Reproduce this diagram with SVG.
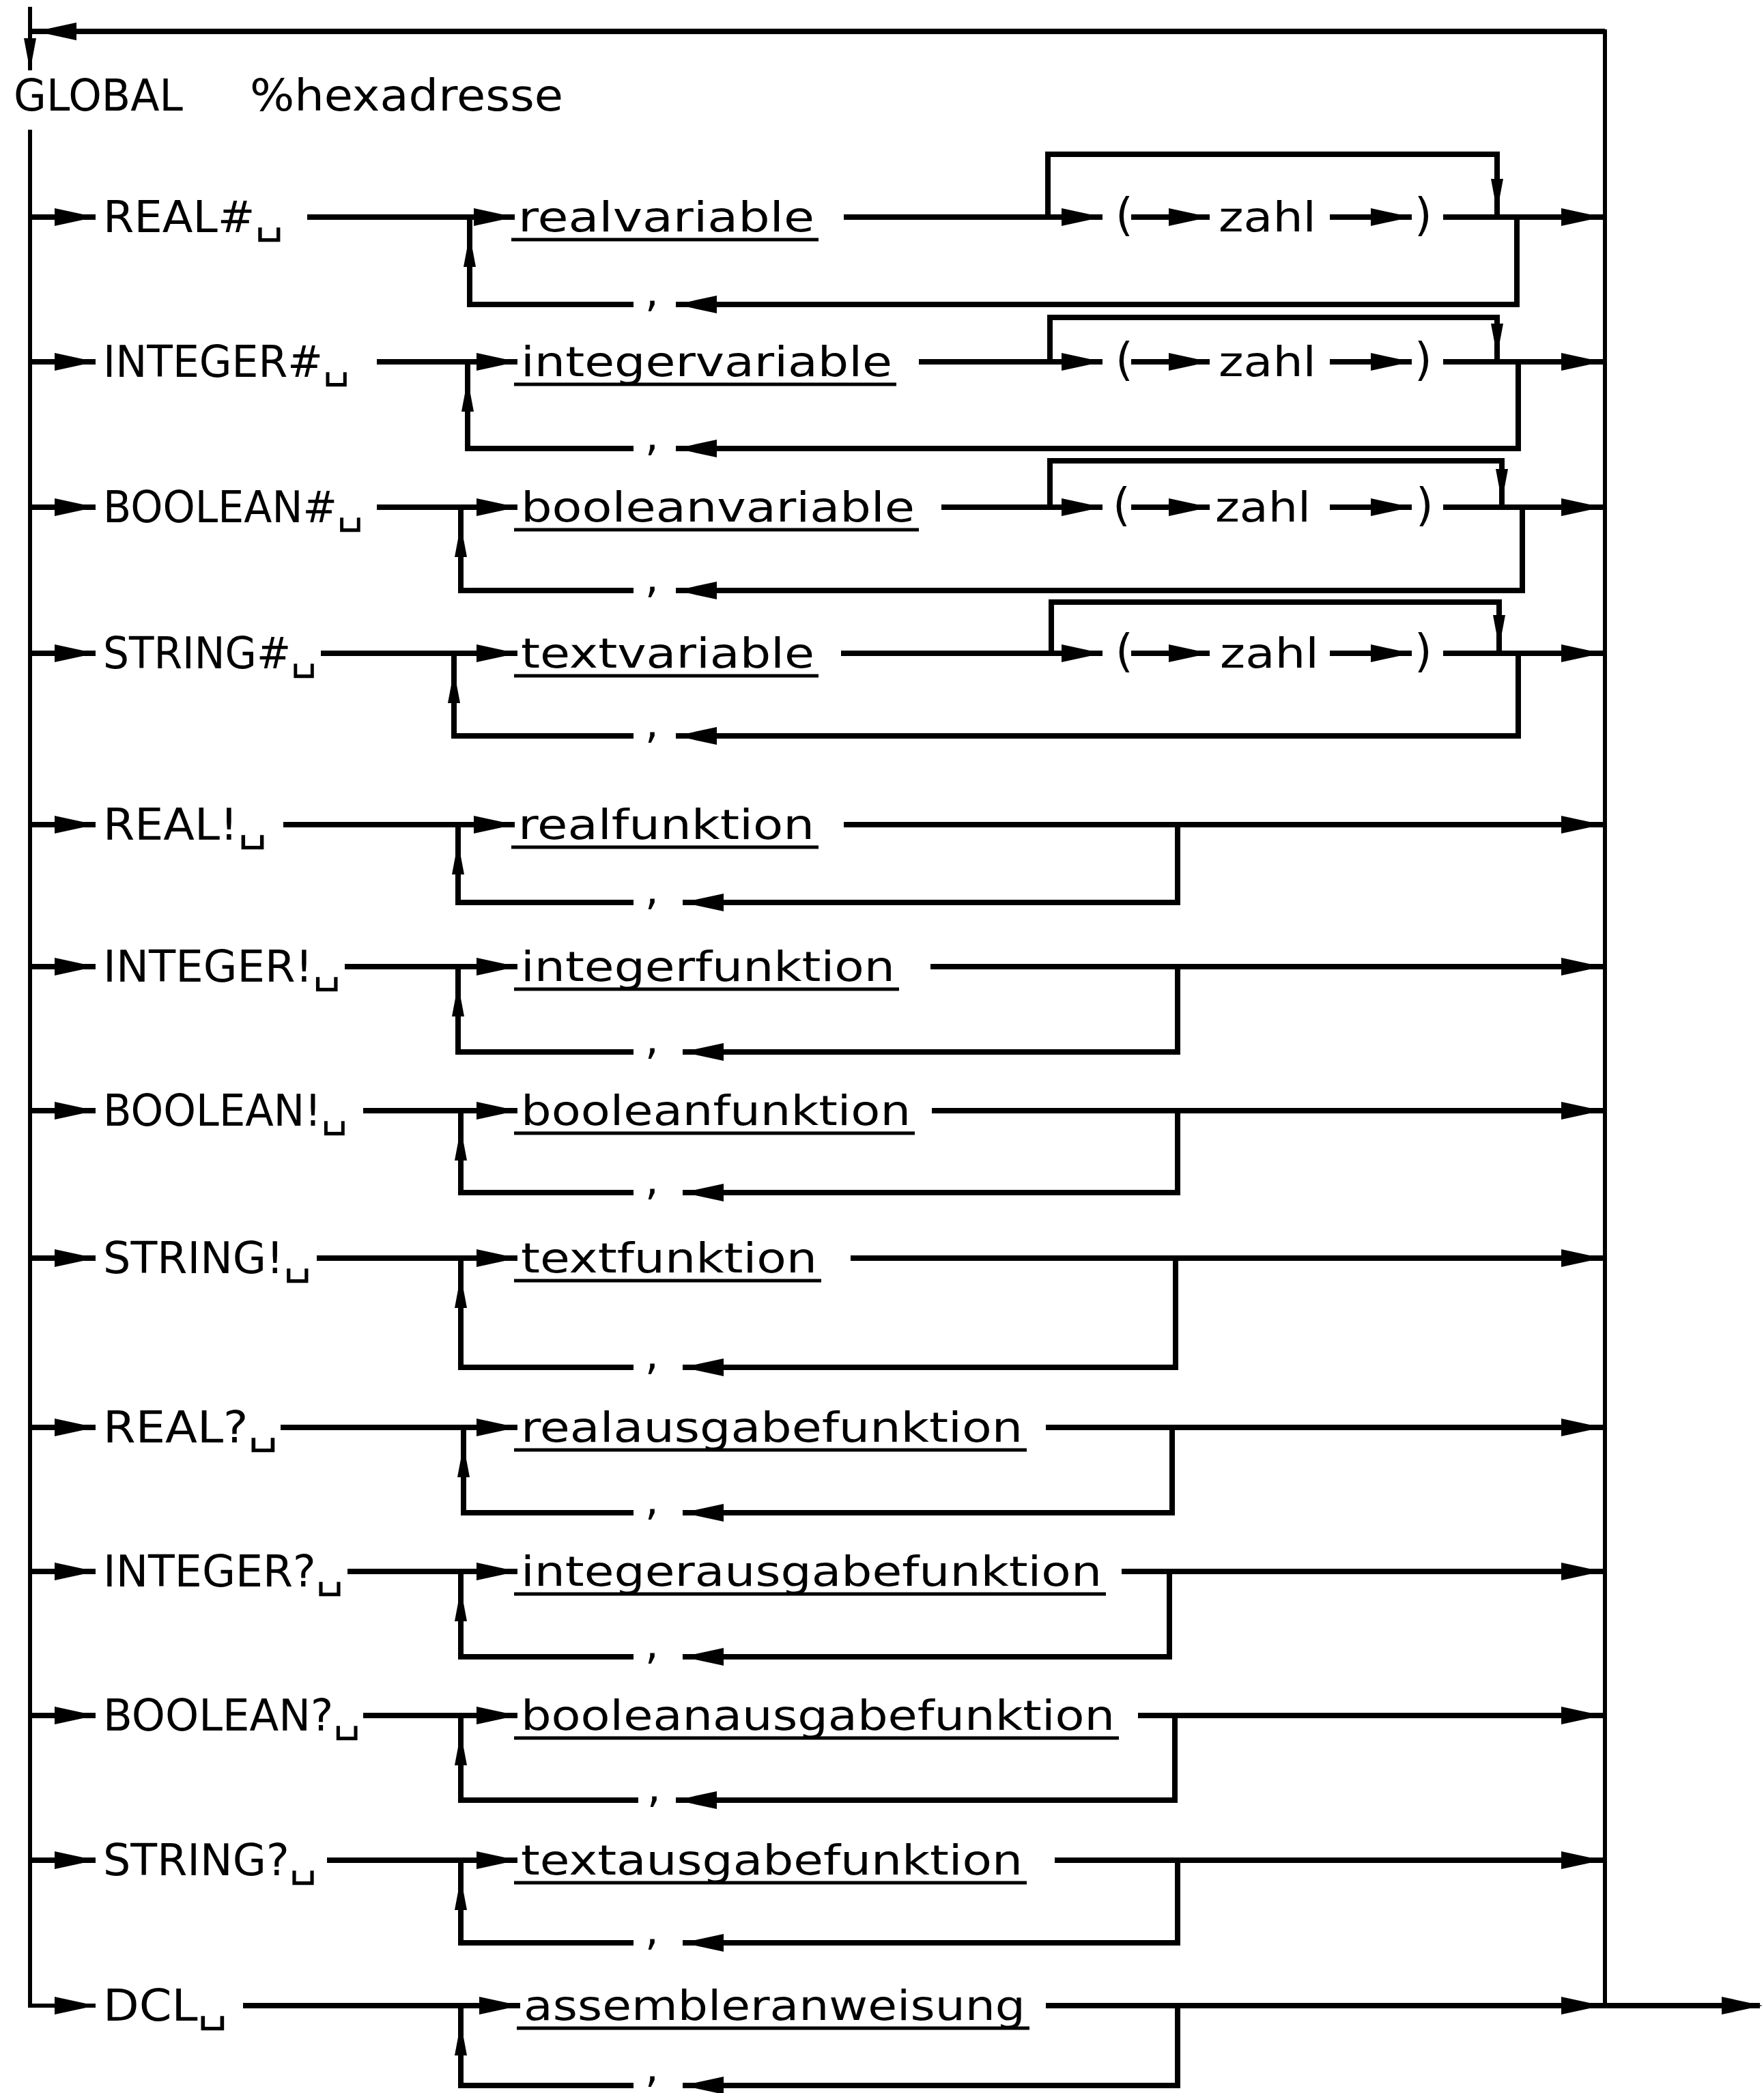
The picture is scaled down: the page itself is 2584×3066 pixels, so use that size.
<svg xmlns="http://www.w3.org/2000/svg" xmlns:xlink="http://www.w3.org/1999/xlink" width="2584" height="3066" viewBox="0 0 2584 3066">
<style>
text{font-family:"DejaVu Sans","Liberation Sans",sans-serif;fill:#000}
.kw{font-size:64px}
.nm{font-size:60px}
.cm{font-size:64px}
.pr{font-size:66px}
.ln{fill:none;stroke:#000;stroke-width:8;stroke-linejoin:miter;stroke-linecap:butt}
.bus{fill:none;stroke:#000;stroke-width:6}
.ul{fill:none;stroke:#000;stroke-width:5}
</style>
<defs>
<path id="ar" d="M0 0 L-60 -13 L-60 13 Z" fill="#000"/>
<path id="av" d="M0 0 L-48 -9 L-48 9 Z" fill="#000"/>
</defs>
<rect x="0" y="0" width="2584" height="3066" fill="#fff"/>

<g id="connectors">
<path class="bus" d="M44 10 V103"/>
<path class="ln" d="M44 46 H2351"/>
<use href="#ar" transform="translate(52 46) rotate(180)"/>
<use href="#av" transform="translate(44 104) rotate(90)"/>
<path class="bus" d="M44 190 V2938 H140"/>
<path class="bus" d="M2351 43 V2938"/>
<path class="ln" d="M2351 2938 H2578"/>
<use href="#ar" transform="translate(2582 2938)"/>

<path class="ln" d="M44 318 H140 M450 318 H754 M688 318 V446 H928 M990 446 H2222 V318 M1236 318 H1615 M1535 318 V226 H2193 V318 M1657 318 H1772 M1948 318 H2068 M2114 318 H2351"/>
<use href="#ar" transform="translate(140 318)"/>
<use href="#ar" transform="translate(754 318)"/>
<use href="#av" transform="translate(688 343) rotate(-90)"/>
<use href="#ar" transform="translate(990 446) rotate(180)"/>
<use href="#ar" transform="translate(1615 318)"/>
<use href="#av" transform="translate(2193 310) rotate(90)"/>
<use href="#ar" transform="translate(1772 318)"/>
<use href="#ar" transform="translate(2068 318)"/>
<use href="#ar" transform="translate(2347 318)"/>

<path class="ln" d="M44 530 H140 M552 530 H758 M685 530 V657 H928 M990 657 H2224 V530 M1346 530 H1615 M1538 530 V465 H2193 V530 M1657 530 H1772 M1948 530 H2068 M2114 530 H2351"/>
<use href="#ar" transform="translate(140 530)"/>
<use href="#ar" transform="translate(758 530)"/>
<use href="#av" transform="translate(685 555) rotate(-90)"/>
<use href="#ar" transform="translate(990 657) rotate(180)"/>
<use href="#ar" transform="translate(1615 530)"/>
<use href="#av" transform="translate(2193 522) rotate(90)"/>
<use href="#ar" transform="translate(1772 530)"/>
<use href="#ar" transform="translate(2068 530)"/>
<use href="#ar" transform="translate(2347 530)"/>

<path class="ln" d="M44 743 H140 M552 743 H758 M675 743 V865 H928 M990 865 H2230 V743 M1379 743 H1615 M1538 743 V675 H2200 V743 M1657 743 H1772 M1948 743 H2068 M2114 743 H2351"/>
<use href="#ar" transform="translate(140 743)"/>
<use href="#ar" transform="translate(758 743)"/>
<use href="#av" transform="translate(675 768) rotate(-90)"/>
<use href="#ar" transform="translate(990 865) rotate(180)"/>
<use href="#ar" transform="translate(1615 743)"/>
<use href="#av" transform="translate(2200 735) rotate(90)"/>
<use href="#ar" transform="translate(1772 743)"/>
<use href="#ar" transform="translate(2068 743)"/>
<use href="#ar" transform="translate(2347 743)"/>

<path class="ln" d="M44 957 H140 M470 957 H758 M665 957 V1078 H928 M990 1078 H2224 V957 M1232 957 H1615 M1540 957 V882 H2196 V957 M1657 957 H1772 M1948 957 H2068 M2114 957 H2351"/>
<use href="#ar" transform="translate(140 957)"/>
<use href="#ar" transform="translate(758 957)"/>
<use href="#av" transform="translate(665 982) rotate(-90)"/>
<use href="#ar" transform="translate(990 1078) rotate(180)"/>
<use href="#ar" transform="translate(1615 957)"/>
<use href="#av" transform="translate(2196 949) rotate(90)"/>
<use href="#ar" transform="translate(1772 957)"/>
<use href="#ar" transform="translate(2068 957)"/>
<use href="#ar" transform="translate(2347 957)"/>

<path class="ln" d="M44 1208 H140 M415 1208 H754 M671 1208 V1322 H928 M1000 1322 H1725 V1208 M1236 1208 H2351"/>
<use href="#ar" transform="translate(140 1208)"/>
<use href="#ar" transform="translate(754 1208)"/>
<use href="#av" transform="translate(671 1233) rotate(-90)"/>
<use href="#ar" transform="translate(1000 1322) rotate(180)"/>
<use href="#ar" transform="translate(2347 1208)"/>

<path class="ln" d="M44 1416 H140 M505 1416 H758 M671 1416 V1541 H928 M1000 1541 H1725 V1416 M1363 1416 H2351"/>
<use href="#ar" transform="translate(140 1416)"/>
<use href="#ar" transform="translate(758 1416)"/>
<use href="#av" transform="translate(671 1441) rotate(-90)"/>
<use href="#ar" transform="translate(1000 1541) rotate(180)"/>
<use href="#ar" transform="translate(2347 1416)"/>

<path class="ln" d="M44 1627 H140 M532 1627 H758 M675 1627 V1747 H928 M1000 1747 H1725 V1627 M1365 1627 H2351"/>
<use href="#ar" transform="translate(140 1627)"/>
<use href="#ar" transform="translate(758 1627)"/>
<use href="#av" transform="translate(675 1652) rotate(-90)"/>
<use href="#ar" transform="translate(1000 1747) rotate(180)"/>
<use href="#ar" transform="translate(2347 1627)"/>

<path class="ln" d="M44 1843 H140 M464 1843 H758 M675 1843 V2003 H928 M1000 2003 H1722 V1843 M1246 1843 H2351"/>
<use href="#ar" transform="translate(140 1843)"/>
<use href="#ar" transform="translate(758 1843)"/>
<use href="#av" transform="translate(675 1868) rotate(-90)"/>
<use href="#ar" transform="translate(1000 2003) rotate(180)"/>
<use href="#ar" transform="translate(2347 1843)"/>

<path class="ln" d="M44 2091 H140 M411 2091 H758 M679 2091 V2216 H928 M1000 2216 H1717 V2091 M1532 2091 H2351"/>
<use href="#ar" transform="translate(140 2091)"/>
<use href="#ar" transform="translate(758 2091)"/>
<use href="#av" transform="translate(679 2116) rotate(-90)"/>
<use href="#ar" transform="translate(1000 2216) rotate(180)"/>
<use href="#ar" transform="translate(2347 2091)"/>

<path class="ln" d="M44 2302 H140 M509 2302 H758 M675 2302 V2427 H928 M1000 2427 H1713 V2302 M1643 2302 H2351"/>
<use href="#ar" transform="translate(140 2302)"/>
<use href="#ar" transform="translate(758 2302)"/>
<use href="#av" transform="translate(675 2327) rotate(-90)"/>
<use href="#ar" transform="translate(1000 2427) rotate(180)"/>
<use href="#ar" transform="translate(2347 2302)"/>

<path class="ln" d="M44 2513 H140 M532 2513 H758 M675 2513 V2637 H935 M990 2637 H1721 V2513 M1667 2513 H2351"/>
<use href="#ar" transform="translate(140 2513)"/>
<use href="#ar" transform="translate(758 2513)"/>
<use href="#av" transform="translate(675 2538) rotate(-90)"/>
<use href="#ar" transform="translate(990 2637) rotate(180)"/>
<use href="#ar" transform="translate(2347 2513)"/>

<path class="ln" d="M44 2725 H140 M479 2725 H758 M675 2725 V2846 H928 M1000 2846 H1725 V2725 M1545 2725 H2351"/>
<use href="#ar" transform="translate(140 2725)"/>
<use href="#ar" transform="translate(758 2725)"/>
<use href="#av" transform="translate(675 2750) rotate(-90)"/>
<use href="#ar" transform="translate(1000 2846) rotate(180)"/>
<use href="#ar" transform="translate(2347 2725)"/>

<path class="ln" d="M356 2938 H762 M675 2938 V3055 H928 M1000 3055 H1725 V2938 M1532 2938 H2351"/>
<use href="#ar" transform="translate(140 2938)"/>
<use href="#ar" transform="translate(762 2938)"/>
<use href="#av" transform="translate(675 2963) rotate(-90)"/>
<use href="#ar" transform="translate(1000 3055) rotate(180)"/>
<use href="#ar" transform="translate(2347 2938)"/>

<path class="ul" d="M749 351 H1199 M753 563 H1313 M753 776 H1346 M753 990 H1199 M749 1241 H1199 M753 1449 H1317 M753 1660 H1340 M753 1876 H1203 M753 2124 H1504 M753 2335 H1620 M753 2546 H1639 M753 2758 H1504 M757 2971 H1508"/>
</g>

<g id="header">
<text class="kw" x="20" y="162" textLength="248" lengthAdjust="spacingAndGlyphs">GLOBAL</text>
<text class="kw" x="366" y="162" textLength="459" lengthAdjust="spacingAndGlyphs">%hexadresse</text>
</g>

<g id="row1">
<text class="kw" x="151" y="340" textLength="264" lengthAdjust="spacingAndGlyphs">REAL#␣</text>
<text class="nm" x="759" y="339" textLength="434" lengthAdjust="spacingAndGlyphs">realvariable</text>
<text class="cm" x="955" y="449" text-anchor="middle">,</text>
<text class="pr" x="1634" y="337">(</text>
<text class="nm" x="1785" y="339" textLength="143" lengthAdjust="spacingAndGlyphs">zahl</text>
<text class="pr" x="2072" y="337">)</text>
</g>
<g id="row2">
<text class="kw" x="151" y="552" textLength="361" lengthAdjust="spacingAndGlyphs">INTEGER#␣</text>
<text class="nm" x="763" y="551" textLength="544" lengthAdjust="spacingAndGlyphs">integervariable</text>
<text class="cm" x="955" y="660" text-anchor="middle">,</text>
<text class="pr" x="1634" y="549">(</text>
<text class="nm" x="1785" y="551" textLength="143" lengthAdjust="spacingAndGlyphs">zahl</text>
<text class="pr" x="2072" y="549">)</text>
</g>
<g id="row3">
<text class="kw" x="151" y="765" textLength="381" lengthAdjust="spacingAndGlyphs">BOOLEAN#␣</text>
<text class="nm" x="763" y="764" textLength="577" lengthAdjust="spacingAndGlyphs">booleanvariable</text>
<text class="cm" x="955" y="868" text-anchor="middle">,</text>
<text class="pr" x="1630" y="762">(</text>
<text class="nm" x="1780" y="764" textLength="140" lengthAdjust="spacingAndGlyphs">zahl</text>
<text class="pr" x="2074" y="762">)</text>
</g>
<g id="row4">
<text class="kw" x="151" y="979" textLength="313" lengthAdjust="spacingAndGlyphs">STRING#␣</text>
<text class="nm" x="763" y="978" textLength="430" lengthAdjust="spacingAndGlyphs">textvariable</text>
<text class="cm" x="955" y="1081" text-anchor="middle">,</text>
<text class="pr" x="1634" y="976">(</text>
<text class="nm" x="1787" y="978" textLength="145" lengthAdjust="spacingAndGlyphs">zahl</text>
<text class="pr" x="2072" y="976">)</text>
</g>
<g id="row5">
<text class="kw" x="151" y="1230" textLength="240" lengthAdjust="spacingAndGlyphs">REAL!␣</text>
<text class="nm" x="759" y="1229" textLength="434" lengthAdjust="spacingAndGlyphs">realfunktion</text>
<text class="cm" x="955" y="1325" text-anchor="middle">,</text>
</g>
<g id="row6">
<text class="kw" x="151" y="1438" textLength="348" lengthAdjust="spacingAndGlyphs">INTEGER!␣</text>
<text class="nm" x="763" y="1437" textLength="548" lengthAdjust="spacingAndGlyphs">integerfunktion</text>
<text class="cm" x="955" y="1544" text-anchor="middle">,</text>
</g>
<g id="row7">
<text class="kw" x="151" y="1649" textLength="358" lengthAdjust="spacingAndGlyphs">BOOLEAN!␣</text>
<text class="nm" x="763" y="1648" textLength="571" lengthAdjust="spacingAndGlyphs">booleanfunktion</text>
<text class="cm" x="955" y="1750" text-anchor="middle">,</text>
</g>
<g id="row8">
<text class="kw" x="151" y="1865" textLength="305" lengthAdjust="spacingAndGlyphs">STRING!␣</text>
<text class="nm" x="763" y="1864" textLength="434" lengthAdjust="spacingAndGlyphs">textfunktion</text>
<text class="cm" x="955" y="2006" text-anchor="middle">,</text>
</g>
<g id="row9">
<text class="kw" x="151" y="2113" textLength="256" lengthAdjust="spacingAndGlyphs">REAL?␣</text>
<text class="nm" x="763" y="2112" textLength="735" lengthAdjust="spacingAndGlyphs">realausgabefunktion</text>
<text class="cm" x="955" y="2219" text-anchor="middle">,</text>
</g>
<g id="row10">
<text class="kw" x="151" y="2324" textLength="352" lengthAdjust="spacingAndGlyphs">INTEGER?␣</text>
<text class="nm" x="763" y="2323" textLength="851" lengthAdjust="spacingAndGlyphs">integerausgabefunktion</text>
<text class="cm" x="955" y="2430" text-anchor="middle">,</text>
</g>
<g id="row11">
<text class="kw" x="151" y="2535" textLength="377" lengthAdjust="spacingAndGlyphs">BOOLEAN?␣</text>
<text class="nm" x="763" y="2534" textLength="870" lengthAdjust="spacingAndGlyphs">booleanausgabefunktion</text>
<text class="cm" x="958" y="2640" text-anchor="middle">,</text>
</g>
<g id="row12">
<text class="kw" x="151" y="2747" textLength="313" lengthAdjust="spacingAndGlyphs">STRING?␣</text>
<text class="nm" x="763" y="2746" textLength="735" lengthAdjust="spacingAndGlyphs">textausgabefunktion</text>
<text class="cm" x="955" y="2849" text-anchor="middle">,</text>
</g>
<g id="row13">
<text class="kw" x="151" y="2960" textLength="182" lengthAdjust="spacingAndGlyphs">DCL␣</text>
<text class="nm" x="767" y="2959" textLength="735" lengthAdjust="spacingAndGlyphs">assembleranweisung</text>
<text class="cm" x="955" y="3050" font-size="54" text-anchor="middle">,</text>
</g>
</svg>
